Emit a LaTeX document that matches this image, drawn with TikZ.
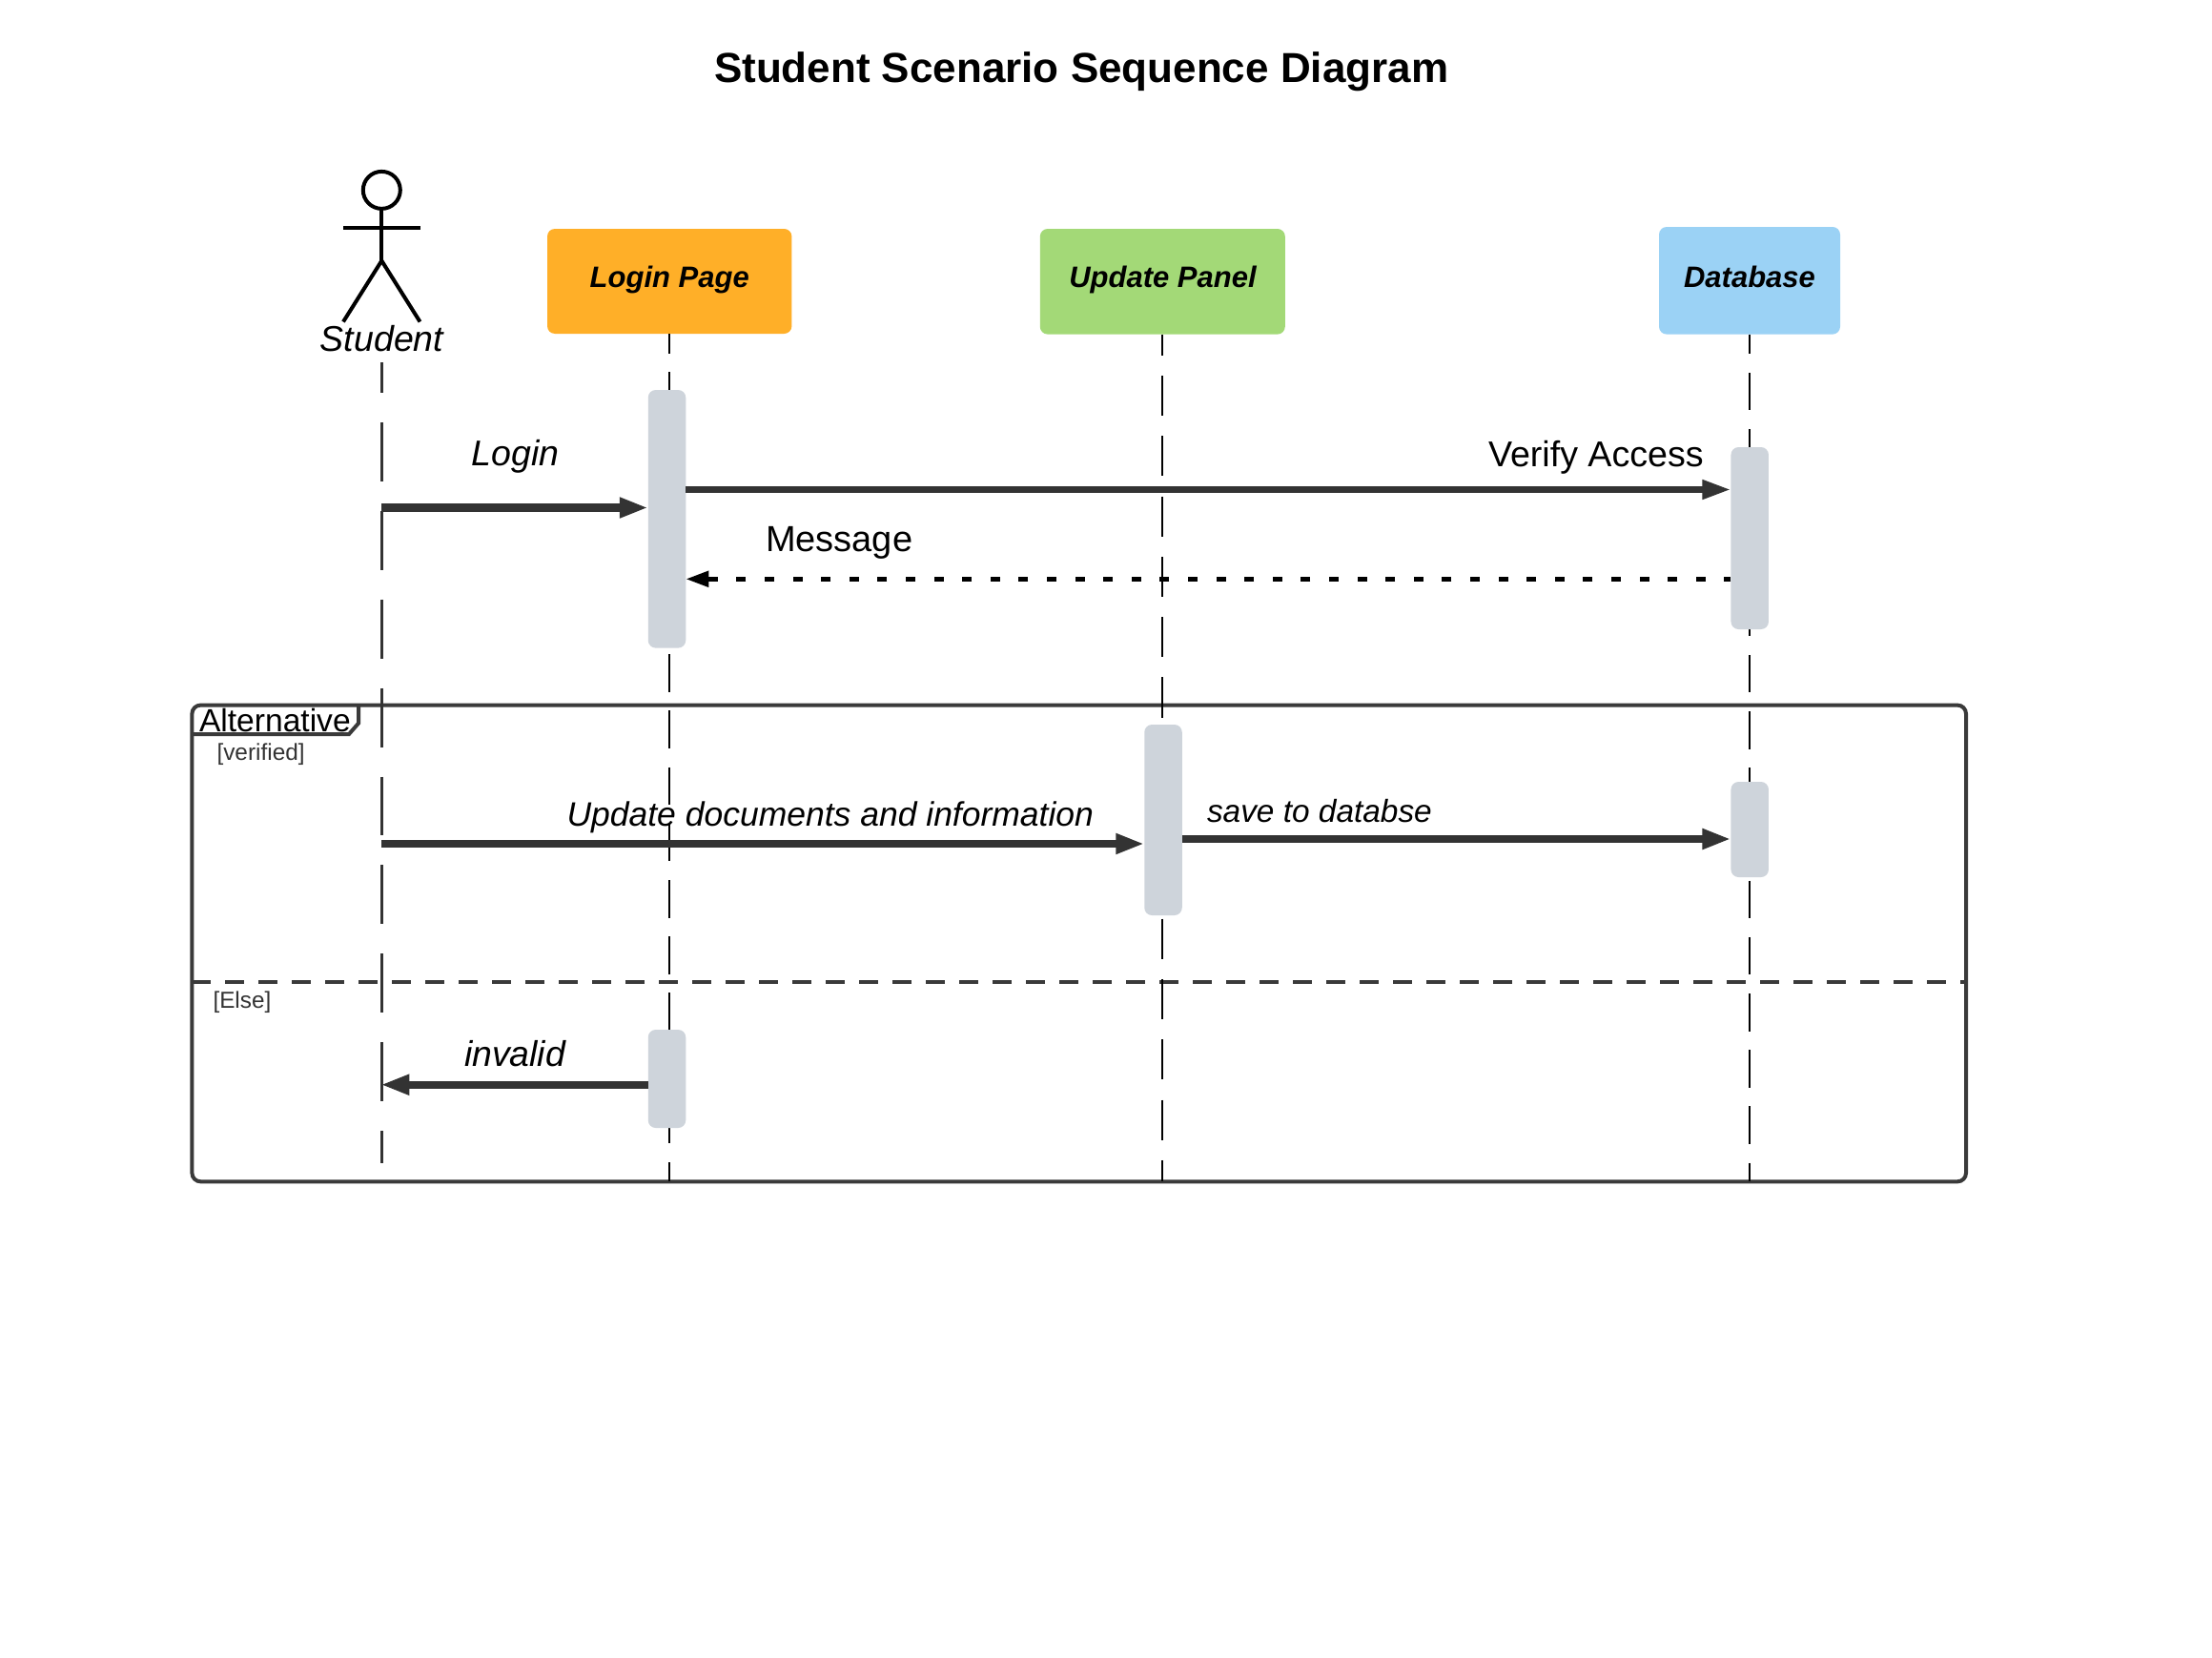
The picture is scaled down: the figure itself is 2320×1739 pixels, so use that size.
\documentclass[tikz,border=0pt]{standalone}
\usepackage{fontspec}
\usetikzlibrary{arrows.meta}
\setmainfont{Liberation Sans}
\definecolor{ink}{HTML}{333333}
\definecolor{frameink}{HTML}{3A3A3A}
\definecolor{orangebox}{HTML}{FFAF28}
\definecolor{greenbox}{HTML}{A3D977}
\definecolor{bluebox}{HTML}{9BD2F5}
\definecolor{activgray}{HTML}{CED4DB}
\newcommand{\fs}[1]{\fontsize{#1}{#1}\selectfont}
\tikzset{
  x=1pt,y=-1pt,
  headbox/.style={rectangle,rounded corners=8pt,inner sep=0pt,outer sep=0pt},
  activ/.style={rectangle,rounded corners=8pt,inner sep=0pt,outer sep=0pt,fill=activgray,minimum width=39.5pt},
  lifeA/.style={draw=ink,line width=3pt,dash pattern=on 61.9pt off 31pt,dash phase=30pt},
  lifeB/.style={draw=black,line width=2pt,dash pattern=on 39.5pt off 19.7pt,dash phase=19pt},
  lifeC/.style={draw=black,line width=2pt,dash pattern=on 42.2pt off 21.1pt,dash phase=20pt},
  msg/.style={draw=ink,line width=8.4pt,-{Triangle[length=30pt,width=20pt]},color=ink},
  label/.style={anchor=base west,inner sep=0pt,outer sep=0pt,text=black},
  actorline/.style={draw=black,line width=4pt},
  hd/.style={font=\fs{31}\bfseries\itshape,text=black},
}
\begin{document}
\begin{tikzpicture}
\useasboundingbox (0,0) rectangle (2320,1739);
\fill[white] (0,0) rectangle (2320,1739);

% title
\node[label,font=\fs{44}\bfseries] (title) at (749,87) {Student Scenario Sequence Diagram};

% frame
\node[rectangle,draw=frameink,line width=4pt,rounded corners=9pt,inner sep=0pt,outer sep=0pt,minimum width=1860.6pt,minimum height=499.7pt] (frame) at (1131.7,989.45) {};
\coordinate (tabA) at (201.4,770);
\coordinate (tabB) at (366,770);
\coordinate (tabC) at (376,758.6);
\coordinate (tabD) at (376,739.6);
\draw[draw=frameink,line width=4pt] (tabA) -- (tabB) -- (tabC) -- (tabD);
\coordinate (divL) at (201.4,1030);
\coordinate (divR) at (2062,1030);
\draw[draw=frameink,line width=4pt,dash pattern=on 20pt off 15pt] (divL) -- (divR);

% participants
\node[headbox,fill=orangebox,minimum width=256.4pt,minimum height=110pt] (login) at (702.2,295) {};
\node[headbox,fill=greenbox,minimum width=257pt,minimum height=110.6pt] (update) at (1219.3,295.3) {};
\node[headbox,fill=bluebox,minimum width=190pt,minimum height=112.6pt] (db) at (1835,294.3) {};
\node[hd,anchor=base,inner sep=0pt] (loginT) at (702.2,301) {Login Page};
\node[hd,anchor=base,inner sep=0pt] (updateT) at (1219.5,301.5) {Update Panel};
\node[hd,anchor=base,inner sep=0pt] (dbT) at (1835,301.5) {Database};

% actor
\node[circle,draw=black,line width=4pt,minimum size=39pt,inner sep=0pt,outer sep=0pt] (head) at (400.3,199.4) {};
\coordinate (hip) at (400.3,273.5);
\coordinate (armL) at (360,239);
\coordinate (armR) at (440.5,239);
\coordinate (footL) at (360,337.5);
\coordinate (footR) at (440.5,337.5);
\draw[actorline] (head.south) -- (hip);
\draw[actorline] (armL) -- (armR);
\draw[actorline,line join=round] (footL) -- (hip) -- (footR);
\node[anchor=base,inner sep=0pt,font=\fs{37.5}\itshape] (student) at (400.5,368) {Student};

% lifelines
\coordinate (studentTop) at (400.3,380);
\coordinate (studentEnd) at (400.3,1220);
\coordinate (loginEnd) at (702.2,1239);
\coordinate (updateEnd) at (1219.3,1239);
\coordinate (dbEnd) at (1835,1239);
\draw[lifeA] (studentTop) -- (studentEnd);
\draw[lifeB] (login.south) -- (loginEnd);
\draw[lifeC] (update.south) -- (updateEnd);
\draw[lifeB] (db.south) -- (dbEnd);

% activations
\node[activ,minimum height=270.6pt] (a1) at (699.5,544.3) {};
\node[activ,minimum height=191pt] (d1) at (1835.2,564.5) {};
\node[activ,minimum height=200pt] (u1) at (1220,860) {};
\node[activ,minimum height=100pt] (d2) at (1835.2,870) {};
\node[activ,minimum height=103pt] (a2) at (699.5,1131.5) {};

% messages
\coordinate (mLogin) at (400.3,532.5);
\coordinate (mVerify) at (400.3,513.5);
\coordinate (mMessage) at (400.3,607.3);
\coordinate (mUpdate) at (400.3,885);
\coordinate (mSave) at (400.3,880);
\coordinate (mInvalid) at (400.3,1137.7);
\draw[msg] (mLogin) -- (a1.west |- mLogin);
\draw[msg,line width=7pt,-{Triangle[length=30pt,width=19pt]}] (a1.east |- mVerify) -- (d1.west |- mVerify);
\draw[draw=black,line width=5pt,dash pattern=on 10pt off 19.6pt,dash phase=3pt,-{Triangle[length=24pt,width=16pt]}] (d1.west |- mMessage) -- (a1.east |- mMessage);
\draw[msg] (u1.east |- mSave) -- (d2.west |- mSave);
\draw[msg] (mUpdate) -- (u1.west |- mUpdate);
\draw[msg,shorten >=-1pt] (a2.west |- mInvalid) -- (mInvalid);

% labels
\node[label,font=\fs{37.5}\itshape] (lLogin) at (494.7,488) {Login};
\node[label,font=\fs{37.6}] (lVerify) at (1561,489.3) {Verify Access};
\node[label,font=\fs{38}] (lMessage) at (803,578.5) {Message};
\node[label,font=\fs{35.5}\itshape] (lUpdate) at (594.5,866) {Update documents and information};
\node[label,font=\fs{33.4}\itshape] (lSave) at (1266,862) {save to databse};
\node[label,font=\fs{37.4}\itshape] (lInvalid) at (487,1118.5) {invalid};
\node[label,font=\fs{33.6}] (lAlt) at (209,767) {Alternative};
\node[label,font=\fs{24.4},text=ink] (lVer) at (227.5,797.5) {[verified]};
\node[label,font=\fs{24.3},text=ink] (lElse) at (223.5,1057.5) {[Else]};
\end{tikzpicture}
\end{document}
